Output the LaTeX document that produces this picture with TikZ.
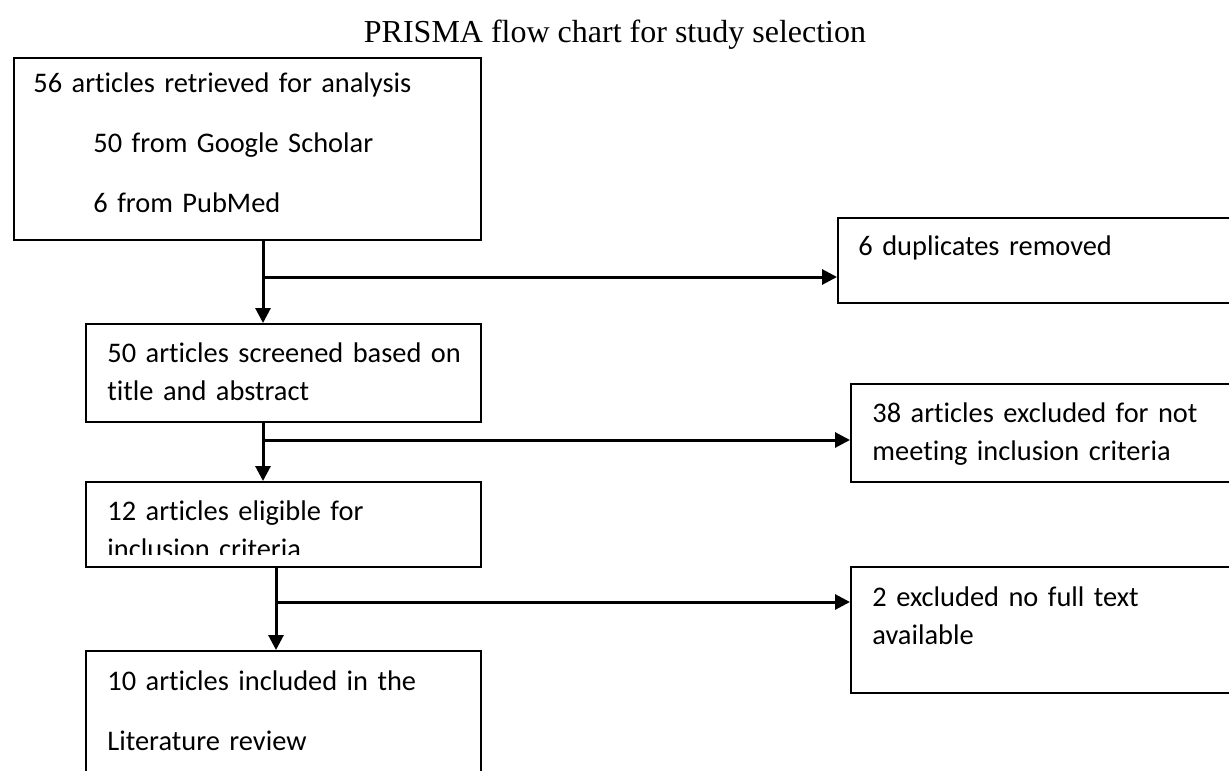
\documentclass[tikz,border=0pt]{standalone}
\usepackage{fontspec}
\setmainfont{Carlito}[Ligatures=NoCommon]
\newfontfamily\titlefont{Liberation Serif}
\newcommand\boxfont{\fontsize{14.2pt}{19pt}\selectfont\spaceskip=0.17em plus 0.05em minus 0.02em\relax}
\usetikzlibrary{arrows.meta, calc, positioning}

\begin{document}
\begin{tikzpicture}[x=0.5pt, y=-0.5pt, >={Triangle[length=7.5pt, width=7.5pt]}]
	\tikzstyle{box} = [draw, line width=1pt, rectangle, anchor=north west, inner sep=0pt]
	\tikzstyle{txt} = [anchor=base west, inner sep=0pt, align=left, text width=230pt, font=\boxfont]
	\tikzstyle{line} = [line width=1.5pt]

	\useasboundingbox (0,0) rectangle (1229,770);

	\node[font=\titlefont\fontsize{16pt}{19pt}\selectfont, anchor=base] (title) at (615,43) {PRISMA flow chart for study selection};

	% main column
	\node[box, minimum width=233.5pt, minimum height=91pt] (retrieved) at (13,57) {};
	\node[box, minimum width=197.5pt, minimum height=49pt] (screened) at (85,323) {};
	\node[box, minimum width=197.5pt, minimum height=42.5pt] (eligible) at (85,481) {};
	\node[box, minimum width=197.5pt, minimum height=70pt] (included) at (85,650) {};

	% excluded records
	\node[box, minimum width=201.5pt, minimum height=42.5pt] (duplicates) at (837,217) {};
	\node[box, minimum width=195pt, minimum height=49pt] (notmeeting) at (850,383) {};
	\node[box, minimum width=195pt, minimum height=63pt] (nofulltext) at (850,566) {};

	\node[txt] (t1) at ($(retrieved.north west)+(20,36)$)
		{56 articles retrieved for analysis\\[11pt]
		\hspace*{30pt}50 from Google Scholar\\[11pt]
		\hspace*{30pt}6 from PubMed};
	\node[txt] (t2) at ($(screened.north west)+(22,39)$)
		{50 articles screened based on\\title and abstract};
	\begin{scope}
		\clip (eligible.north west) rectangle ($(eligible.south east)+(0,-14)$);
		\node[txt] (t3) at ($(eligible.north west)+(22,39)$)
			{12 articles eligible for\\inclusion criteria};
	\end{scope}
	\node[txt] (t4) at ($(included.north west)+(22,40)$)
		{10 articles included in the\\[11pt]Literature review};
	\node[txt] (t5) at ($(duplicates.north west)+(21,38)$) {6 duplicates removed};
	\node[txt] (t6) at ($(notmeeting.north west)+(22,39)$)
		{38 articles excluded for not\\meeting inclusion criteria};
	\node[txt] (t7) at ($(nofulltext.north west)+(22,40)$)
		{2 excluded no full text\\available};

	% connectors
	\coordinate (j1) at (263,277);
	\coordinate (j2) at (263,440);
	\coordinate (j3) at (276,602);

	\draw[line, ->] (retrieved.south -| j1) -- (j1 |- screened.north);
	\draw[line, ->] (j1) -- (j1 -| duplicates.west);
	\draw[line, ->] (screened.south -| j2) -- (j2 |- eligible.north);
	\draw[line, ->] (j2) -- (j2 -| notmeeting.west);
	\draw[line, ->] (eligible.south -| j3) -- (j3 |- included.north);
	\draw[line, ->] (j3) -- (j3 -| nofulltext.west);
\end{tikzpicture}
\end{document}
